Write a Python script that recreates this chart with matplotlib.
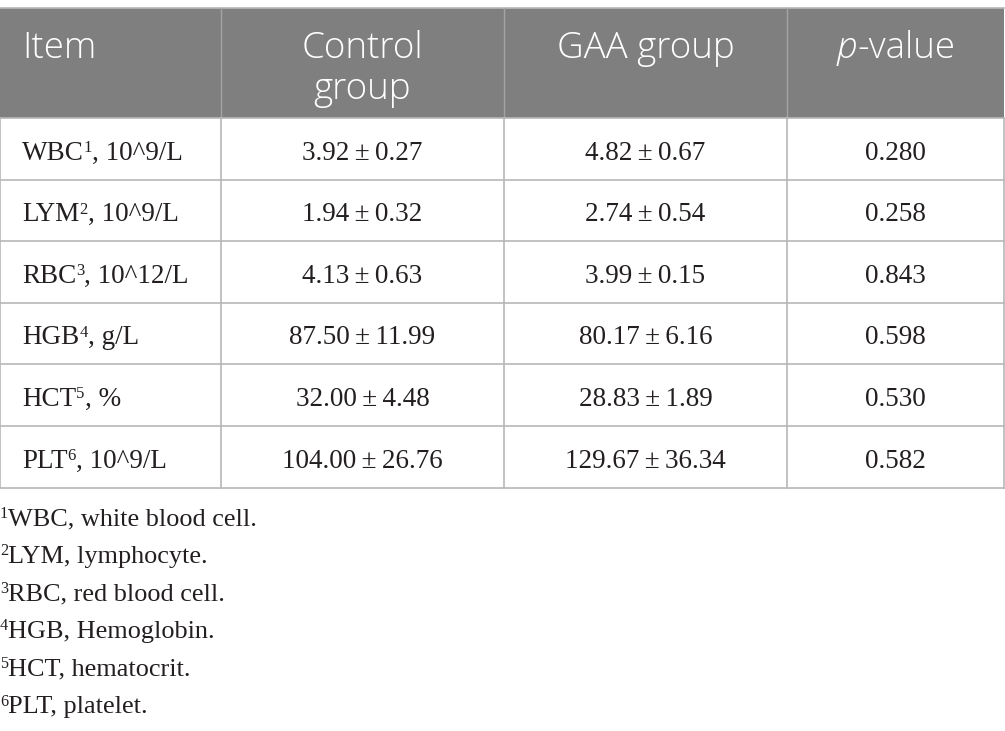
import matplotlib
matplotlib.use("Agg")
import matplotlib.pyplot as plt
from matplotlib import font_manager
from matplotlib.patches import Rectangle

# table content
headers = ["Item", "Control\ngroup", "GAA group", "p", "-value"]
items = ["WBC", "LYM", "RBC", "HGB", "HCT", "PLT"]
units = ["10^9/L", "10^9/L", "10^12/L", "g/L", "%", "10^9/L"]
control_mean = ["3.92", "1.94", "4.13", "87.50", "32.00", "104.00"]
control_sd = ["0.27", "0.32", "0.63", "11.99", "4.48", "26.76"]
gaa_mean = ["4.82", "2.74", "3.99", "80.17", "28.83", "129.67"]
gaa_sd = ["0.67", "0.54", "0.15", "6.16", "1.89", "36.34"]
p_values = ["0.280", "0.258", "0.843", "0.598", "0.530", "0.582"]
footnotes = ["WBC, white blood cell.", "LYM, lymphocyte.", "RBC, red blood cell.",
             "HGB, Hemoglobin.", "HCT, hematocrit.", "PLT, platelet."]

# use a light weight of Open Sans for the header if one is installed
head_weight = 'normal'
light = [f for f in font_manager.fontManager.ttflist
         if f.name == 'Open Sans' and f.weight in (300, 'light')]
if light:
    head_weight = 300

W, H = 1005, 731
fig = plt.figure(figsize=(W / 100, H / 100), dpi=100)
ax = fig.add_axes([0, 0, 1, 1])
ax.set_xlim(0, W)
ax.set_ylim(H, 0)
ax.axis('off')
renderer = fig.canvas.get_renderer()

SERIF = 'Liberation Serif'
BODY = 19.5
SUP = 12
TXT = '#231f20'


def pieces(x, y, parts, size_scale=1.0):
    # draw text pieces one after another on a common baseline (pixel coords)
    for s, size, dy in parts:
        t = ax.text(x, y - dy, s, ha='left', va='baseline', family=SERIF,
                    size=size * size_scale, color=TXT)
        x += t.get_window_extent(renderer).width


col_x = [0, 221, 504, 787, 1004]
head_top, head_bot = 8, 118
row_h = 61.6
line_col = '#b8b8b8'
head_col = '#7f7f7f'

# header band
ax.add_patch(Rectangle((0, head_top), col_x[-1], head_bot - head_top,
                       facecolor=head_col, edgecolor='none'))
ax.plot([0, col_x[-1]], [head_top, head_top], color=line_col, lw=1.2)
for x in col_x[1:-1]:
    ax.plot([x, x], [head_top, head_bot], color='#a3a3a3', lw=1.0)

hfont = dict(family='Open Sans', size=26.5, color='white', va='baseline',
             weight=head_weight)
ax.text(22, 58, headers[0], ha='left', **hfont)
c1 = (col_x[1] + col_x[2]) / 2
for k, line in enumerate(headers[1].split('\n')):
    ax.text(c1, 58 + 41 * k, line, ha='center', **hfont)
ax.text((col_x[2] + col_x[3]) / 2, 58, headers[2], ha='center', **hfont)

# "p-value" with italic p, centred as one string
tp = ax.text(0, 58, headers[3], ha='left', style='italic', **hfont)
tv = ax.text(0, 58, headers[4], ha='left', **hfont)
wp = tp.get_window_extent(renderer).width
wv = tv.get_window_extent(renderer).width
x0 = (col_x[3] + col_x[4]) / 2 - (wp + wv) / 2
tp.set_x(x0)
tv.set_x(x0 + wp + 1)

# body grid
n = len(items)
bottom = head_bot + n * row_h
for i in range(n + 1):
    y = head_bot + i * row_h
    ax.plot([0, col_x[-1]], [y, y], color=line_col, lw=1.2)
for x in col_x:
    ax.plot([x, x], [head_bot, bottom], color=line_col, lw=1.2)

bfont = dict(family=SERIF, size=BODY, color=TXT, va='baseline')
for i in range(n):
    yb = head_bot + i * row_h + 41.5
    pieces(22, yb, [(items[i], BODY, 0), (str(i + 1), SUP, 7.5),
                    (", " + units[i], BODY, 0)])
    ax.text(c1, yb, control_mean[i] + "\u2009\u00b1\u2009" + control_sd[i],
            ha='center', **bfont)
    ax.text((col_x[2] + col_x[3]) / 2, yb, gaa_mean[i] + "\u2009\u00b1\u2009" + gaa_sd[i],
            ha='center', **bfont)
    ax.text((col_x[3] + col_x[4]) / 2, yb, p_values[i], ha='center', **bfont)

# footnotes
for i, note in enumerate(footnotes):
    yb = 525 + i * 37.6
    pieces(0, yb, [(str(i + 1), SUP, 7.5), (note, BODY, 0)], size_scale=0.97)

fig.savefig('out.png', dpi=100)
